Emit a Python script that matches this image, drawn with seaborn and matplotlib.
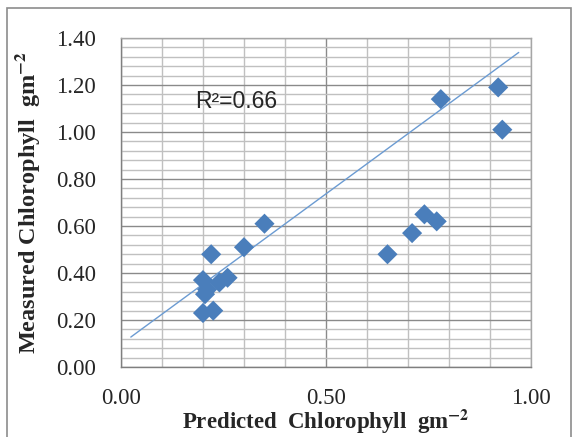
import numpy as np
import pandas as pd
import matplotlib
matplotlib.use("Agg")
import matplotlib.pyplot as plt
from matplotlib.patches import Rectangle
from matplotlib.ticker import MultipleLocator
import seaborn as sns

# values
predicted = [0.20, 0.21, 0.20, 0.24, 0.26, 0.205, 0.225, 0.22, 0.30, 0.35,
             0.65, 0.71, 0.74, 0.77, 0.78, 0.92, 0.93]
measured = [0.37, 0.33, 0.23, 0.36, 0.38, 0.31, 0.24, 0.48, 0.51, 0.61,
            0.48, 0.57, 0.65, 0.62, 1.14, 1.19, 1.01]
# trend line as drawn in the reference
trend_x = [0.024, 0.97]
trend_slope = 1.28
trend_intercept = 0.097
r2_text = "R²=0.66"

df = pd.DataFrame({"Predicted": predicted, "Measured": measured})

sns.set_style("white")
plt.rcParams["font.family"] = ["Liberation Serif", "DejaVu Serif"]
plt.rcParams["mathtext.fontset"] = "stix"

fig = plt.figure(figsize=(5.78, 4.37), dpi=100)
ax = fig.add_axes([0.2093, 0.160, 0.7094, 0.753])

# outer chart border (bottom edge falls outside the picture, as in the reference)
fig.patches.append(Rectangle((0.012, -0.05), 0.976, 1.032, transform=fig.transFigure,
                             fill=False, edgecolor="#8c8c8c", linewidth=1.2))

# grid
ax.xaxis.set_major_locator(MultipleLocator(0.5))
ax.xaxis.set_minor_locator(MultipleLocator(0.1))
ax.yaxis.set_major_locator(MultipleLocator(0.2))
ax.yaxis.set_minor_locator(MultipleLocator(0.04))
ax.grid(which="minor", color="#c0c0c0", linewidth=1.0)
ax.grid(which="major", color="#8a8a8a", linewidth=1.0)
ax.set_axisbelow(True)

xl = np.array(trend_x)
ax.plot(xl, trend_slope * xl + trend_intercept, color="#6b9bd2", linewidth=1.0, zorder=2)

sns.scatterplot(data=df, x="Predicted", y="Measured", ax=ax, marker="D",
                s=105, color="#4a7ebb", edgecolor="none", zorder=3)

ax.set_xlim(0, 1.0)
ax.set_ylim(0, 1.4)
ax.set_xticks([0, 0.5, 1.0])
ax.set_xticklabels(["0.00", "0.50", "1.00"])
ax.set_yticks(np.arange(0, 1.41, 0.2))
ax.set_yticklabels([f"{v:.2f}" for v in np.arange(0, 1.41, 0.2)])
ax.tick_params(axis="both", which="major", labelsize=16.5, length=6, width=1,
               color="#7f7f7f", direction="out")
ax.tick_params(axis="x", pad=9)
ax.tick_params(axis="y", pad=12)
ax.tick_params(which="minor", length=0)

for side in ["left", "bottom"]:
    ax.spines[side].set_color("#7f7f7f")
    ax.spines[side].set_linewidth(1.0)
for side in ["top", "right"]:
    ax.spines[side].set_color("#a6a6a6")
    ax.spines[side].set_linewidth(1.0)

ax.set_xlabel(r"Predicted  Chlorophyll  gm$^{\mathbf{-2}}$", fontsize=16.5,
              fontweight="bold", labelpad=-1)
ax.set_ylabel(r"Measured Chlorophyll  gm$^{\mathbf{-2}}$", fontsize=17.5,
              fontweight="bold", labelpad=10)

ax.text(0.28, 1.13, r2_text, fontsize=16.5, ha="center", va="center",
        family=["Liberation Sans", "DejaVu Sans"])

fig.savefig("out.png", dpi=100)
